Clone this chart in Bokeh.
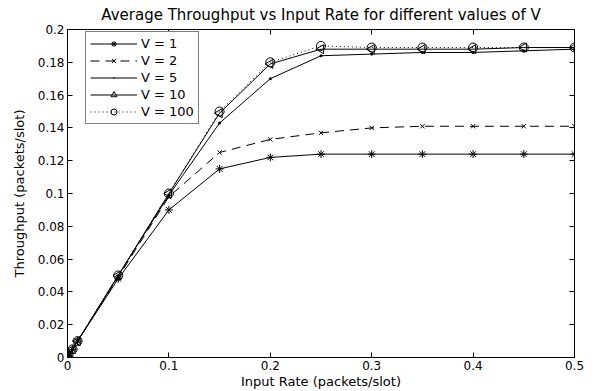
from bokeh.plotting import figure
from bokeh.models import LinearAxis, Range1d, FixedTicker, Legend, LegendItem, CustomJSTickFormatter
from bokeh.embed import file_html
from bokeh.resources import INLINE
import math

input_rate = [0.0, 0.001, 0.005, 0.01, 0.05, 0.1, 0.15, 0.2, 0.25, 0.3, 0.35, 0.4, 0.45, 0.5]
v1 = [0.0, 0.001, 0.005, 0.01, 0.048, 0.090, 0.115, 0.122, 0.124, 0.124, 0.124, 0.124, 0.124, 0.124]
v2 = [0.0, 0.001, 0.005, 0.01, 0.049, 0.098, 0.125, 0.133, 0.137, 0.140, 0.141, 0.141, 0.141, 0.141]
v5 = [0.0, 0.001, 0.005, 0.01, 0.050, 0.099, 0.143, 0.170, 0.184, 0.185, 0.186, 0.186, 0.187, 0.188]
v10 = [0.0, 0.001, 0.005, 0.01, 0.050, 0.100, 0.149, 0.179, 0.188, 0.188, 0.188, 0.188, 0.189, 0.189]
v100 = [0.0, 0.001, 0.005, 0.01, 0.050, 0.100, 0.150, 0.180, 0.190, 0.189, 0.189, 0.189, 0.189, 0.189]
labels = ["V = 1", "V = 2", "V = 5", "V = 10", "V = 100"]
x_ticks = [0, 0.1, 0.2, 0.3, 0.4, 0.5]
y_ticks = [0, 0.02, 0.04, 0.06, 0.08, 0.1, 0.12, 0.14, 0.16, 0.18, 0.2]

FONT = "DejaVu Sans"
FRAME_H = 328

p = figure(frame_width=507, frame_height=FRAME_H, output_backend="svg", toolbar_location=None,
           x_range=Range1d(0, 0.5), y_range=Range1d(0, 0.2),
           min_border_left=67, min_border_right=21, min_border_top=29, min_border_bottom=34)
p.title.text = "Average Throughput vs Input Rate for different values of V"
p.title.align = "center"
p.title.vertical_align = "top"
p.title.text_font = FONT
p.title.text_font_size = "15px"
p.title.text_font_style = "normal"
p.title.text_color = "black"
p.title.offset = 0
p.title.standoff = 8
p.grid.visible = False
p.outline_line_color = "black"
p.outline_line_width = 1

for ax in p.xaxis + p.yaxis:
    ax.major_tick_in = 5
    ax.major_tick_out = 0
    ax.minor_tick_in = 0
    ax.minor_tick_out = 0
    ax.axis_line_color = "black"
    ax.major_tick_line_color = "black"
    ax.major_label_text_font = FONT
    ax.major_label_text_font_size = "12px"
    ax.major_label_text_color = "black"
    ax.axis_label_text_font = FONT
    ax.axis_label_text_font_size = "13px"
    ax.axis_label_text_font_style = "normal"
    ax.axis_label_text_color = "black"
p.xaxis.ticker = FixedTicker(ticks=x_ticks)
p.yaxis.ticker = FixedTicker(ticks=y_ticks)
p.xaxis.axis_label = "Input Rate (packets/slot)"
p.yaxis.axis_label = "Throughput (packets/slot)"
p.xaxis.major_label_standoff = 3
p.xaxis.axis_label_standoff = 1
p.yaxis.major_label_standoff = 3
p.yaxis.axis_label_standoff = 8

blank = CustomJSTickFormatter(code="return ''")
right = LinearAxis(ticker=FixedTicker(ticks=y_ticks), formatter=blank,
                   major_tick_in=5, major_tick_out=0, minor_tick_in=0, minor_tick_out=0,
                   major_label_standoff=0)
top = LinearAxis(ticker=FixedTicker(ticks=x_ticks), formatter=blank,
                 major_tick_in=5, major_tick_out=0, minor_tick_in=0, minor_tick_out=0,
                 major_label_standoff=0)
p.add_layout(right, "right")
p.add_layout(top, "above")

items = []
l1 = p.line(input_rate, v1, line_color="black", line_width=1)
m1 = p.scatter(input_rate, v1, marker="asterisk", size=8, line_color="black")
items.append(LegendItem(label=labels[0], renderers=[l1, m1]))

l2 = p.line(input_rate, v2, line_color="black", line_width=1, line_dash="9 6")
m2 = p.scatter(input_rate, v2, marker="x", size=6, line_color="black")
items.append(LegendItem(label=labels[1], renderers=[l2, m2]))

l5 = p.line(input_rate, v5, line_color="black", line_width=1)
m5 = p.scatter(input_rate, v5, marker="dot", size=12, line_color="black", fill_color="black")
items.append(LegendItem(label=labels[2], renderers=[l5, m5]))

l10 = p.line(input_rate, v10, line_color="black", line_width=1)
m10 = p.scatter(input_rate, v10, marker="triangle", size=9, angle=math.pi / 2,
                line_color="black", fill_color=None)
items.append(LegendItem(label=labels[3], renderers=[l10, m10]))

l100 = p.line(input_rate, v100, line_color="black", line_width=1, line_dash="1 3")
m100 = p.scatter(input_rate, v100, marker="circle", size=9, line_color="black", fill_color=None)
items.append(LegendItem(label=labels[4], renderers=[l100, m100]))

legend = Legend(items=items, location=(18, FRAME_H - 4 - 91), border_line_color="black",
                border_line_width=1, label_text_font=FONT, label_text_font_size="13px",
                label_text_color="black",
                glyph_width=47, glyph_height=15, label_height=15, spacing=2, padding=4,
                margin=0, label_standoff=4, background_fill_alpha=1)
p.add_layout(legend)

open("out.html", "w").write(file_html(p, INLINE))
